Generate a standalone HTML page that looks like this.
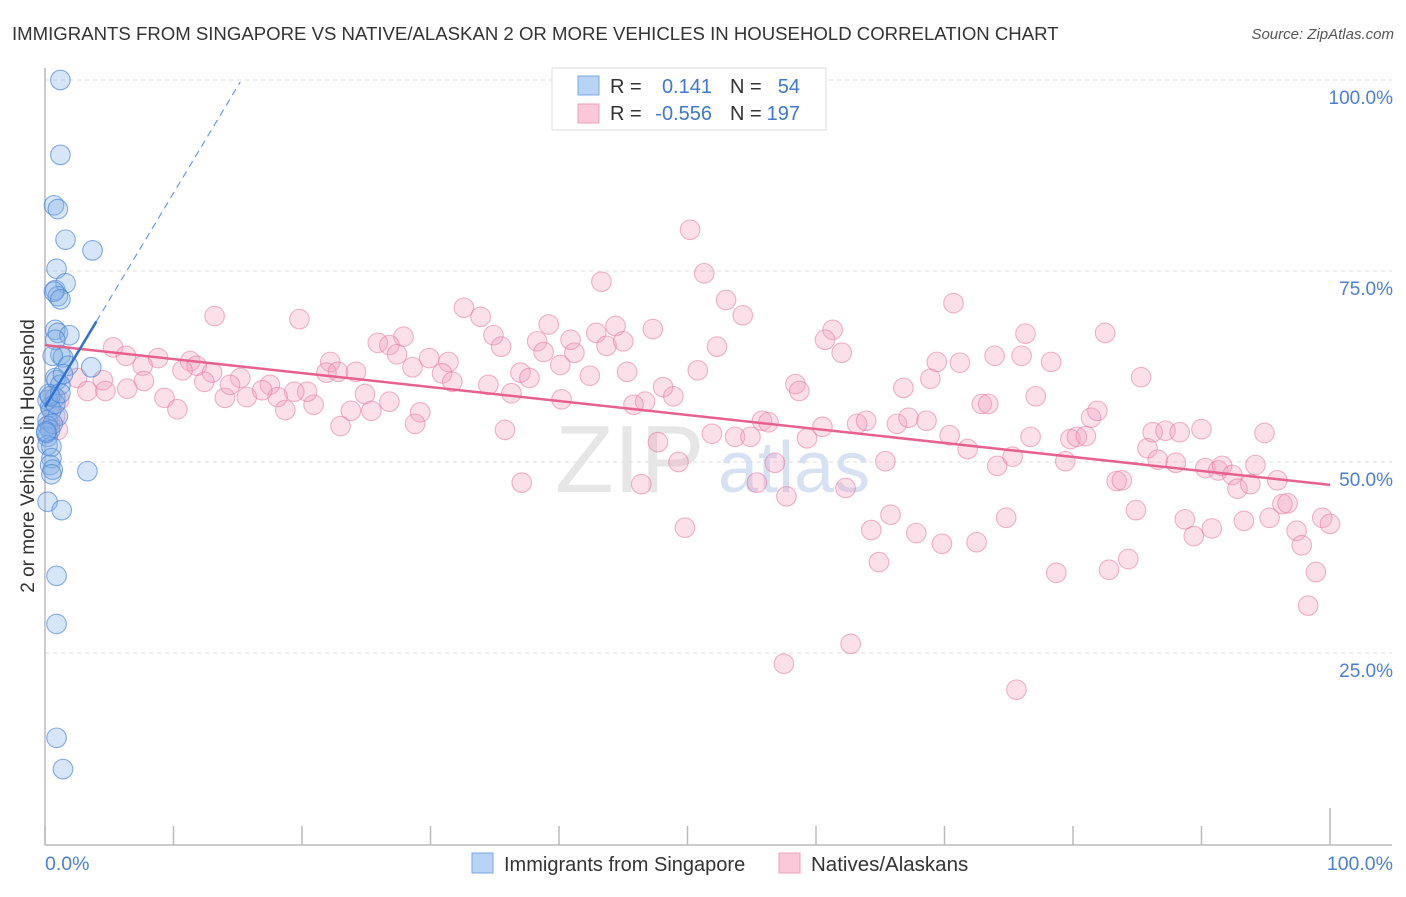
<!DOCTYPE html>
<html><head><meta charset="utf-8">
<style>
body{margin:0;background:#fff;width:1406px;height:892px;overflow:hidden;font-family:"Liberation Sans",sans-serif;}
svg text{font-family:"Liberation Sans",sans-serif;}
</style></head>
<body>
<svg id="chart" width="1406" height="892">
<text x="12" y="40" font-size="18.6" fill="#333">IMMIGRANTS FROM SINGAPORE VS NATIVE/ALASKAN 2 OR MORE VEHICLES IN HOUSEHOLD CORRELATION CHART</text>
<text x="1394" y="39" font-size="15" fill="#555" text-anchor="end" font-style="italic">Source: ZipAtlas.com</text>
<g id="grid"></g>
<text x="555" y="492" font-size="96" fill="#e6e6e6" font-family="Liberation Serif">ZIP</text>
<text x="718" y="492" font-size="72" fill="#d6e2f3">atlas</text>
<line x1="45" y1="68" x2="45" y2="845" stroke="#bbb" stroke-width="1.5"/>
<line x1="45" y1="845" x2="1392" y2="845" stroke="#bbb" stroke-width="1.5"/>
<g id="xticks"></g>
<g id="ylabels"></g>
<text transform="translate(34,456) rotate(-90)" font-size="19" fill="#333" text-anchor="middle">2 or more Vehicles in Household</text>
<text x="45" y="870" font-size="19.5" fill="#4a7fd6">0.0%</text>
<text x="1393" y="870" font-size="19.5" fill="#4a7fd6" text-anchor="end">100.0%</text>
<g id="pink"></g>
<g id="blue"></g>
<g id="trends"></g>
<g>
<rect x="552" y="68" width="274" height="62" fill="#fff" stroke="#ddd"/>
<rect x="578" y="76" width="21" height="19" fill="#b8d3f5" stroke="#7aa8e6"/>
<rect x="578" y="104" width="21" height="19" fill="#fac8d8" stroke="#eea0ba"/>
<text x="610" y="93" font-size="20" fill="#333">R =</text>
<text x="712" y="93" font-size="20" fill="#3e78d0" text-anchor="end">0.141</text>
<text x="730" y="93" font-size="20" fill="#333">N =</text>
<text x="800" y="93" font-size="20" fill="#3e78d0" text-anchor="end">54</text>
<text x="610" y="120" font-size="20" fill="#333">R =</text>
<text x="712" y="120" font-size="20" fill="#3e78d0" text-anchor="end">-0.556</text>
<text x="730" y="120" font-size="20" fill="#333">N =</text>
<text x="800" y="120" font-size="20" fill="#3e78d0" text-anchor="end">197</text>
</g>
<g>
<rect x="472" y="853" width="21" height="20" fill="#b8d3f5" stroke="#7aa8e6"/>
<text x="504" y="871" font-size="20" fill="#333">Immigrants from Singapore</text>
<rect x="779" y="853" width="21" height="20" fill="#fac8d8" stroke="#eea0ba"/>
<text x="811" y="871" font-size="20.5" fill="#333">Natives/Alaskans</text>
</g>
</svg>
<script>
const yTicks=[25,50,75,100];
const xTicks=[0,10,20,30,40,50,60,70,80,90,100];
const blueX=[1.2,1.2,0.7,1.0,1.6,3.7,0.9,0.8,1.6,1.0,0.7,1.2,0.8,1.0,1.9,0.8,1.2,1.4,0.6,3.6,1.8,0.8,0.9,1.2,0.2,0.8,0.4,0.5,0.2,1.0,0.2,0.4,0.2,0.2,0.5,0.5,0.4,0.6,0.5,3.3,0.2,1.3,0.9,0.9,0.9,1.4,0.3,0.6,0.1,0.8,0.4,0.1,1.2,1.4];
const blueY=[100,90.2,83.6,83.1,79.1,77.7,75.3,72.5,73.4,71.7,72.3,71.3,67.3,66.9,66.6,66.0,64.0,63.7,63.9,62.4,62.6,61.0,60.7,60.1,58.1,58.4,57.2,56.8,55.5,56.0,54.7,54.2,53.3,52.2,52.0,50.5,49.6,49.0,48.4,48.8,44.8,43.7,35.1,28.8,13.9,9.8,58.9,55.0,53.8,57.6,58.6,54.0,59.0,61.5];
const pinkX=[50.2,51.3,43.3,53.0,70.7,32.6,13.2,19.8,33.9,54.3,39.2,44.4,47.3,76.3,82.5,61.3,34.9,40.9,42.9,27.9,25.9,26.8,35.5,38.3,43.7,45.0,52.3,60.7,5.3,6.3,8.8,11.3,11.8,13.0,7.6,10.7,15.2,17.5,22.2,21.9,22.8,24.2,27.4,29.9,28.6,31.4,30.9,31.7,34.5,37.0,37.7,38.8,41.2,40.1,42.4,45.3,50.8,48.1,62.0,76.0,73.9,69.4,71.2,78.3,85.3,77.1,68.9,66.8,58.4,58.7,48.9,46.7,45.8,40.2,36.3,26.8,24.9,23.8,25.4,23.0,20.9,20.4,19.4,18.1,18.7,15.7,14.0,16.9,14.4,12.4,9.3,10.3,7.7,6.4,4.5,2.5,3.3,4.7,1.1,1.0,29.2,28.8,35.8,37.1,46.4,47.7,49.3,49.8,51.9,53.7,54.9,55.8,56.3,55.4,56.8,57.7,57.5,59.3,60.5,62.3,63.2,63.9,64.3,62.7,65.4,64.9,65.8,66.3,67.2,68.6,67.8,69.8,70.4,71.8,72.5,72.9,73.4,74.1,74.8,75.3,75.6,76.7,78.7,79.4,79.8,80.3,81.0,81.4,81.9,82.8,83.4,83.8,84.3,84.9,85.8,86.2,86.6,87.2,88.0,88.3,88.7,89.4,90.0,90.3,90.8,91.3,91.6,92.4,92.8,93.3,93.8,94.2,94.9,95.3,95.9,96.3,96.7,97.4,97.8,98.3,98.9,99.4,100,0.8,0.4,0.6];
const pinkY=[80.4,74.7,73.6,71.2,70.8,70.2,69.1,68.7,69.0,69.2,68.0,67.8,67.4,66.8,66.9,67.3,66.6,66.0,66.9,66.4,65.6,65.3,65.1,65.8,65.2,65.8,65.1,66.0,65.0,63.9,63.6,63.2,62.6,61.7,62.6,62.0,61.0,60.1,63.1,61.7,61.8,61.8,64.1,63.6,62.4,63.1,61.6,60.5,60.1,61.7,61.0,64.4,64.3,62.7,61.3,61.8,62.0,59.8,64.3,63.9,63.9,63.1,63.0,63.1,61.1,58.6,60.9,59.7,60.2,59.3,58.6,57.9,57.5,58.2,59.0,57.9,58.9,56.7,56.7,54.7,57.5,59.2,59.2,58.5,56.8,58.5,58.4,59.4,60.1,60.5,58.4,56.9,60.6,59.6,60.7,61.0,59.3,59.3,58.1,54.2,56.5,55.0,54.2,47.3,47.1,52.6,50.0,41.4,53.7,53.3,53.3,55.4,55.2,47.3,49.9,45.5,23.6,53.1,54.6,46.6,55.0,55.4,41.1,26.2,50.1,36.9,43.1,55.0,55.8,55.4,40.7,39.3,53.5,51.7,39.5,57.6,57.6,49.5,42.7,50.7,20.2,53.3,35.5,50.1,53.0,53.3,53.4,55.8,56.7,35.9,47.5,47.6,37.3,43.7,51.8,53.9,50.3,54.1,49.9,53.9,42.5,40.3,54.3,49.2,41.3,48.9,49.5,48.3,46.5,42.3,47.1,49.6,53.8,42.7,47.6,44.5,44.6,41.0,39.1,31.2,35.6,42.7,41.9,56.0,55.0,58.8];
const blueTrend=[57.2,2.8];   // intercept, slope
const pinkTrend=[65.3,-0.183];

const NS='http://www.w3.org/2000/svg';
const X0=45,X1=1330,Y0=844,Y100=80;
function sx(v){return X0+(X1-X0)*v/100;}
function sy(v){return Y0-(Y0-Y100)*v/100;}
function mk(tag,attrs,parent){const e=document.createElementNS(NS,tag);for(const k in attrs)e.setAttribute(k,attrs[k]);parent.appendChild(e);return e;}
const grid=document.getElementById('grid'),yl=document.getElementById('ylabels'),xt=document.getElementById('xticks');
yTicks.forEach(t=>{
  const l=mk('line',{x1:45,x2:1392,y1:sy(t),y2:sy(t),stroke:'#ddd','stroke-dasharray':'4,4'},grid);
  
  
  const tx=mk('text',{x:1393,y:sy(t)+24,'font-size':19,fill:'#4a7fd6','text-anchor':'end'},yl);
  tx.textContent=t.toFixed(1)+'%';
  
  
});
xTicks.forEach(t=>{
  const l=mk('line',{x1:sx(t),x2:sx(t),y1:t===100?808:826,y2:845,stroke:'#bbb','stroke-width':1.5},xt);
  
  
});
const pg=document.getElementById('pink');
pinkX.forEach((x,i)=>{
  const c=mk('circle',{cx:sx(x),cy:sy(pinkY[i]),r:9.8,fill:'rgba(244,160,190,0.33)',stroke:'rgba(230,120,160,0.55)','stroke-width':1.1},pg);
  
  
});
const bg=document.getElementById('blue');
blueX.forEach((x,i)=>{
  const c=mk('circle',{cx:sx(x),cy:sy(blueY[i]),r:9.8,fill:'rgba(130,175,230,0.33)',stroke:'rgba(70,130,215,0.65)','stroke-width':1.1},bg);
  
  
});
const tg=document.getElementById('trends');
const f=(t,x)=>t[0]+t[1]*x;
let l1=mk('line',{x1:sx(0),y1:sy(f(pinkTrend,0)),x2:sx(100),y2:sy(f(pinkTrend,100)),stroke:'#e8608e','stroke-width':2.5},tg);


let l2=mk('line',{x1:sx(4),y1:sy(f(blueTrend,4)),x2:sx(15.2),y2:sy(f(blueTrend,15.2)),stroke:'#6a9be0','stroke-width':1.2,'stroke-dasharray':'7,5'},tg);


let l3=mk('line',{x1:sx(0),y1:sy(f(blueTrend,0)),x2:sx(4),y2:sy(f(blueTrend,4)),stroke:'#2f6fd6','stroke-width':2.5},tg);


</script>
</body></html>
